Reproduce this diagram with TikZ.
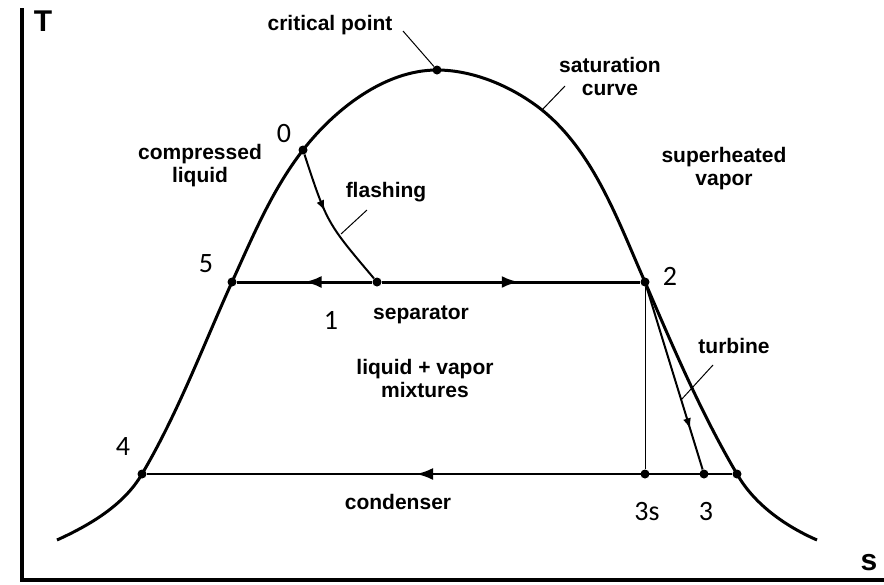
\documentclass[tikz,border=0pt]{standalone}
\usepackage{fontspec}
\setmainfont{Liberation Sans}
\newfontfamily\numfont{Carlito}
\usepackage{tikz}
\usetikzlibrary{arrows.meta,decorations.markings}

\begin{document}
\begin{tikzpicture}[x=1pt,y=-1pt,
  lbl/.style={font=\fontsize{21}{23}\selectfont\bfseries,align=center,inner sep=0pt},
  num/.style={font=\fontsize{28}{30}\selectfont\numfont,inner sep=0pt},
  axlbl/.style={font=\fontsize{30}{32}\selectfont\bfseries,inner sep=0pt},
  dot/.style={circle,fill=black,inner sep=0pt,minimum size=9pt},
  trait/.style={line width=3pt},
  fleche/.style={postaction={decorate},decoration={markings,
                 mark=at position #1 with {\arrow{Latex[length=17pt,width=12pt]}}}},
  petitefleche/.style={postaction={decorate},decoration={markings,
                 mark=at position #1 with {\arrow{Latex[length=11pt,width=8pt]}}}},
  renvoi/.style={line width=1pt}]

  \useasboundingbox (0,0) rectangle (884,584);

  % axes
  \coordinate (Ttop) at (22,8);
  \coordinate (O) at (22,580);
  \coordinate (Send) at (884,580);
  \draw[line width=4pt] (Ttop) -- (O) -- (Send);
  \node[axlbl] (T) at (43,21) {T};
  \node[axlbl] (S) at (869,563) {s};

  % states
  \node[dot] (pc) at (437,70) {};
  \node[dot] (p0) at (303,150) {};
  \node[dot] (p5) at (232,282) {};
  \node[dot] (p1) at (377,282) {};
  \node[dot] (p2) at (645,282) {};
  \node[dot] (p4) at (142,474) {};
  \node[dot] (p3s) at (645,474) {};
  \node[dot] (p3) at (704,474) {};
  \node[dot] (p3v) at (737,474) {};
  \coordinate (dome1) at (57,540);
  \coordinate (sat2) at (542,110);
  \coordinate (dome2) at (817,540);

  % saturation curve
  \draw[trait] (dome1) .. controls (90,525) and (124,505) .. (p4.center)
    .. controls (178,413) and (203,346) .. (p5.center)
    .. controls (253,236) and (272,190) .. (p0.center)
    .. controls (335,109) and (385,70) .. (pc.center)
    .. controls (474,70) and (513,87) .. (sat2)
    .. controls (594,152) and (618,221) .. (p2.center)
    .. controls (673,347) and (701,413) .. (p3v.center)
    .. controls (754,504) and (785,526) .. (dome2);

  \node[num] (n0) at (284,134) {0};
  \node[num] (n5) at (206,264) {5};
  \node[num] (n1) at (331,320) {1};
  \node[num] (n2) at (670,276) {2};
  \node[num] (n4) at (123,447) {4};
  \node[num] (n3s) at (647,512) {3s};
  \node[num] (n3) at (706,512) {3};

  % processes
  \draw[line width=2pt,petitefleche=0.42] (p0) .. controls (327,223) .. (p1);
  \draw[trait,fleche=0.5] (p1) -- (p5);
  \draw[trait,fleche=0.53] (p1) -- (p2);
  \draw[line width=1pt] (p2) -- (p3s);
  \draw[line width=2pt,petitefleche=0.78] (p2) -- (p3);
  \draw[line width=2.5pt,fleche=0.54] (p3v) -- (p4);

  % labels
  \node[lbl] (lcrit) at (330,25) {critical point};
  \node[lbl] (lsat) at (610,76) {saturation\\curve};
  \node[lbl] (lcomp) at (200,166) {compressed\\liquid};
  \node[lbl] (lsup) at (724,169) {superheated\\vapor};
  \node[lbl] (lflash) at (386,192) {flashing};
  \node[lbl] (lsep) at (421,315) {separator};
  \node[lbl] (lmix) at (425,378) {liquid + vapor\\mixtures};
  \node[lbl] (lturb) at (734,346) {turbine};
  \node[lbl] (lcond) at (398,502) {condenser};

  % leaders
  \coordinate (crit1) at (403,31);
  \coordinate (sat1) at (565,86);
  \coordinate (fl1) at (367,210);
  \coordinate (fl2) at (341,234);
  \coordinate (tu1) at (713,365);
  \coordinate (tu2) at (681,400);
  \draw[renvoi] (crit1) -- (pc);
  \draw[renvoi] (sat1) -- (sat2);
  \draw[renvoi] (fl1) -- (fl2);
  \draw[renvoi] (tu1) -- (tu2);
\end{tikzpicture}
\end{document}
